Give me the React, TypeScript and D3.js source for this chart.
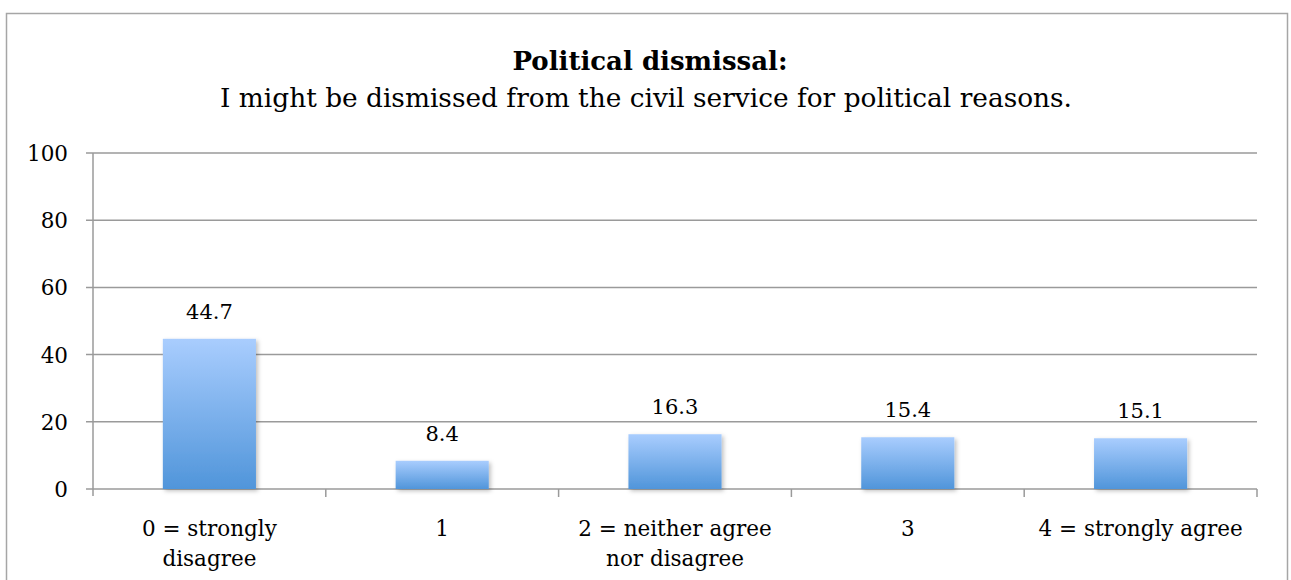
import React from "react";
import * as d3 from "d3";

const categories = ["0 = strongly\ndisagree", "1", "2 = neither agree\nnor disagree", "3", "4 = strongly agree"];
const values = [44.7, 8.4, 16.3, 15.4, 15.1];
const yTicks = [0, 20, 40, 60, 80, 100];
const titleBold = "Political dismissal:";
const subtitle = "I might be dismissed from the civil service for political reasons.";

const W = 1291;
const H = 580;
const FONT = "'DejaVu Serif', serif";

export default function App() {
  const left = 93, right = 1257, top = 153, bottom = 489;
  const x = d3.scaleBand<string>().domain(categories).range([left, right]).paddingInner(0.6).paddingOuter(0.3);
  const band = d3.scaleBand<string>().domain(categories).range([left, right]).padding(0);
  const y = d3.scaleLinear().domain([0, 100]).range([bottom, top]);
  const grid = "#9a9a9a";
  return (
    <svg width={W} height={H} style={{ position: "absolute", left: 0, top: 0 }} fontFamily={FONT}>
      <defs>
        <linearGradient id="barGrad" x1="0" y1="0" x2="0" y2="1">
          <stop offset="0%" stopColor="#a9cdfe" />
          <stop offset="100%" stopColor="#5095da" />
        </linearGradient>
        <filter id="shadow" x="-10%" y="-10%" width="130%" height="130%">
          <feDropShadow dx="2" dy="2" stdDeviation="2" floodColor="#000" floodOpacity="0.25" />
        </filter>
      </defs>
      <rect x={0} y={0} width={W} height={H} fill="#fff" />
      <rect x={6.5} y={13.5} width={1281} height={H} fill="none" stroke="#a6a6a6" strokeWidth={1.5} />
      <text x={650} y={70} textAnchor="middle" fontSize={26} fontWeight="bold" fill="#000">{titleBold}</text>
      <text x={646} y={107} textAnchor="middle" fontSize={26.4} fill="#000">{subtitle}</text>
      {yTicks.map((t) => (
        <g key={t}>
          <line x1={86} x2={right} y1={y(t)} y2={y(t)} stroke={grid} strokeWidth={1.5} />
          <text x={68} y={y(t) + 8} textAnchor="end" fontSize={21.5} fill="#000">{t}</text>
        </g>
      ))}
      <line x1={left} x2={left} y1={top} y2={bottom + 7} stroke={grid} strokeWidth={1.5} />
      {categories.map((c) => (
        <line key={"tk" + c} x1={(band(c) as number) + band.bandwidth()} x2={(band(c) as number) + band.bandwidth()} y1={bottom} y2={bottom + 8} stroke={grid} strokeWidth={1.5} />
      ))}
      {categories.map((c, i) => (
        <g key={c}>
          <rect x={x(c)} y={y(values[i])} width={x.bandwidth()} height={bottom - y(values[i])} fill="url(#barGrad)" filter="url(#shadow)" />
          <text x={(x(c) as number) + x.bandwidth() / 2} y={y(values[i]) - 20} textAnchor="middle" fontSize={21} fill="#000">{values[i].toFixed(1)}</text>
          {c.split("\n").map((line, j) => (
            <text key={j} x={(band(c) as number) + band.bandwidth() / 2} y={536 + j * 30} textAnchor="middle" fontSize={21.5} fill="#000">{line}</text>
          ))}
        </g>
      ))}
    </svg>
  );
}
